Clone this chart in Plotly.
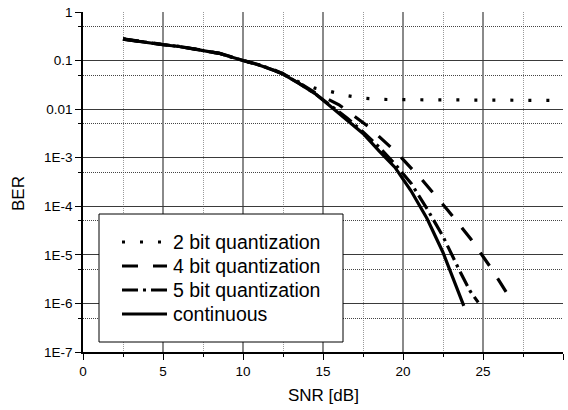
import plotly.graph_objects as go

# ---------------- data ----------------
snr_2bit = [2.5, 4, 5, 6, 7.5, 8.5, 10, 11, 12, 12.5, 13.5, 14.5, 15.5, 16.5, 17.5, 18.5,
            19.5, 20.5, 21.5, 22.5, 23.5, 24.5, 25.5, 26.5, 27.5, 28.5, 29.5]
ber_2bit = [0.279, 0.235, 0.213, 0.196, 0.163, 0.141, 0.100, 0.082, 0.063, 0.054, 0.036,
            0.027, 0.023, 0.019, 0.0168, 0.0159, 0.0157, 0.0156, 0.0156, 0.0155, 0.0155,
            0.0154, 0.0154, 0.0153, 0.0153, 0.0152, 0.0151]

snr_4bit = [2.5, 4, 5, 6, 7.5, 8.5, 10, 11, 12, 12.5, 13.5, 14.5, 16, 17.8, 19.65, 21.2,
            22.8, 24.25, 25.55, 26.7]
ber_4bit = [0.280, 0.236, 0.214, 0.197, 0.163, 0.142, 0.101, 0.082, 0.063, 0.054, 0.035,
            0.0219, 0.0123, 4.47e-3, 1.23e-3, 3.47e-4, 8.3e-5, 2.09e-5, 5.1e-6, 1.26e-6]

snr_5bit = [2.5, 4, 5, 6, 7.5, 8.5, 10, 11, 12, 12.5, 13.5, 14.5, 15.5, 16.5, 17.5, 18.5,
            19.5, 20.5, 21.5, 22.5, 23.5, 24.2, 24.7]
ber_5bit = [0.277, 0.234, 0.212, 0.195, 0.162, 0.141, 0.100, 0.081, 0.062, 0.053, 0.034,
            0.0209, 0.0117, 6.6e-3, 3.39e-3, 1.66e-3, 7.4e-4, 3.0e-4, 8.9e-5, 2.4e-5,
            5.0e-6, 1.78e-6, 1.05e-6]

snr_cont = [2.5, 4, 5, 6, 7.5, 8.5, 10, 11, 12, 12.5, 13.5, 14.5, 15.5, 16.5, 17.5, 18.5,
            19.5, 20.5, 21.5, 22.5, 23.8]
ber_cont = [0.277, 0.234, 0.212, 0.195, 0.162, 0.141, 0.100, 0.0813, 0.0617, 0.0525,
            0.0339, 0.0209, 0.0112, 5.9e-3, 3.16e-3, 1.38e-3, 6.3e-4, 2.09e-4, 5.6e-5,
            1.12e-5, 8.9e-7]

legend_labels = ["2 bit quantization", "4 bit quantization", "5 bit quantization", "continuous"]

x_major_ticks = [0, 5, 10, 15, 20, 25, 30]
x_minor_ticks = [2.5, 7.5, 12.5, 17.5, 22.5, 27.5]
y_major_ticks = [1, 0.1, 0.01, 1e-3, 1e-4, 1e-5, 1e-6, 1e-7]
y_major_text = ["1", "0.1", "0.01", "1E-3", "1E-4", "1E-5", "1E-6", "1E-7"]
y_minor_ticks = [0.5, 0.05, 5e-3, 5e-4, 5e-5, 5e-6, 5e-7]

# ---------------- styles ----------------
dashes = ["3px,15px", "16px,15px", "16px,5px,3px,5px", "solid"]
FONT = "Liberation Sans, Arial, Helvetica, sans-serif"

fig = go.Figure()
series = [(snr_2bit, ber_2bit), (snr_4bit, ber_4bit), (snr_5bit, ber_5bit), (snr_cont, ber_cont)]
for (xs, ys), d, name in zip(series, dashes, legend_labels):
    fig.add_trace(go.Scatter(x=xs, y=ys, mode="lines", name=name,
                             line=dict(color="black", width=3.2, dash=d),
                             showlegend=False))

# plot-area geometry in pixels
W, H = 568, 410
L, R, T, B = 83, 5, 12, 58
PW, PH = W - L - R, H - T - B


def px2paper(px, py):
    return (px - L) / PW, (H - B - py) / PH


shapes = []
annotations = []

# hide edge gridlines (top and right) like the reference
shapes.append(dict(type="line", xref="paper", yref="paper", x0=0.003, x1=1.002, y0=1, y1=1,
                   line=dict(color="white", width=2), layer="between"))
shapes.append(dict(type="line", xref="paper", yref="paper", x0=1, x1=1, y0=0.003, y1=1.002,
                   line=dict(color="white", width=2), layer="between"))

# custom legend box
bx0, by0 = px2paper(99, 342)
bx1, by1 = px2paper(343, 214)
shapes.append(dict(type="rect", xref="paper", yref="paper", x0=bx0, y0=by0, x1=bx1, y1=by1,
                   line=dict(color="black", width=1), fillcolor="white", layer="above"))
item_y = [242, 266, 290, 314]
for yy, d, name in zip(item_y, dashes, legend_labels):
    lx0, ly = px2paper(122, yy)
    lx1, _ = px2paper(167, yy)
    shapes.append(dict(type="line", xref="paper", yref="paper", x0=lx0, x1=lx1, y0=ly, y1=ly,
                       line=dict(color="black", width=3.2, dash=d), layer="above"))
    tx, ty = px2paper(171, yy)
    annotations.append(dict(xref="paper", yref="paper", x=tx, y=ty, text=name,
                            showarrow=False, xanchor="left", yanchor="middle",
                            font=dict(family=FONT, size=19.5, color="black")))

# axis titles
ax_, ay_ = px2paper(323, 395)
annotations.append(dict(xref="paper", yref="paper", x=ax_, y=ay_, text="SNR [dB]",
                        showarrow=False, xanchor="center", yanchor="middle",
                        font=dict(family=FONT, size=17, color="black")))
bx_, by_ = px2paper(18, 194)
annotations.append(dict(xref="paper", yref="paper", x=bx_, y=by_, text="BER", textangle=-90,
                        showarrow=False, xanchor="center", yanchor="middle",
                        font=dict(family=FONT, size=17, color="black")))

fig.update_layout(
    width=W, height=H,
    margin=dict(l=L, r=R, t=T, b=B, pad=0),
    paper_bgcolor="white", plot_bgcolor="white",
    font=dict(family=FONT, color="black"),
    shapes=shapes, annotations=annotations,
    showlegend=False,
)

fig.update_xaxes(
    range=[0, 30], tickmode="array", tickvals=x_major_ticks,
    ticks="outside", ticklen=6, tickwidth=1.2, tickcolor="black",
    showline=True, linecolor="black", linewidth=1.5,
    showgrid=True, gridcolor="#8a8a8a", gridwidth=1.5,
    zeroline=False,
    tickfont=dict(family=FONT, size=13.5, color="black"),
    minor=dict(tickmode="array", tickvals=x_minor_ticks, ticks="outside", ticklen=3,
               tickcolor="black", tickwidth=1, showgrid=True, gridcolor="#9a9a9a",
               gridwidth=1, griddash="1px,1px"),
)
fig.update_yaxes(
    type="log", range=[-7, 0], tickmode="array", tickvals=y_major_ticks, ticktext=y_major_text,
    ticks="outside", ticklen=6, tickwidth=1.2, tickcolor="black",
    showline=True, linecolor="black", linewidth=1.5,
    showgrid=True, gridcolor="#3a3a3a", gridwidth=1,
    zeroline=False,
    tickfont=dict(family=FONT, size=13.5, color="black"),
    minor=dict(tickmode="array", tickvals=y_minor_ticks, ticks="outside", ticklen=3,
               tickcolor="black", tickwidth=1, showgrid=True, gridcolor="#444444",
               gridwidth=1, griddash="1px,1px"),
)

fig.write_html("out.html")
